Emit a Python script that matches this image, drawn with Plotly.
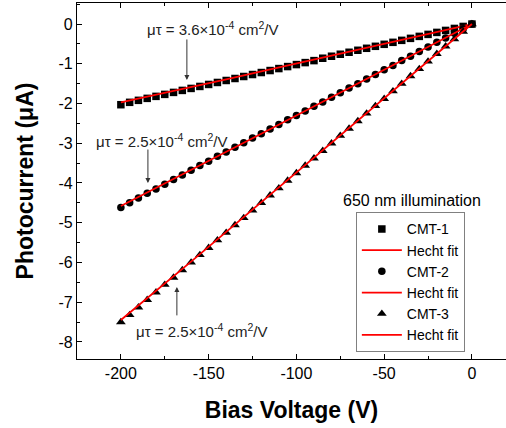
import plotly.graph_objects as go

# ---------------- data ----------------
voltage = [-200, -195, -190, -185, -180, -175, -170, -165, -160, -155, -150,
           -145, -140, -135, -130, -125, -120, -115, -110, -105, -100,
           -95, -90, -85, -80, -75, -70, -65, -60, -55, -50,
           -45, -40, -35, -30, -25, -20, -15, -10, -5, 0]

cmt1 = [-2.03, -1.97, -1.92, -1.87, -1.82, -1.77, -1.72, -1.67, -1.62, -1.57, -1.52,
        -1.47, -1.42, -1.37, -1.32, -1.27, -1.22, -1.17, -1.12, -1.07, -1.02,
        -0.97, -0.92, -0.86, -0.81, -0.76, -0.71, -0.66, -0.61, -0.56, -0.51,
        -0.46, -0.41, -0.36, -0.31, -0.26, -0.21, -0.16, -0.11, -0.06, 0.0]

cmt2 = [-4.62, -4.50, -4.38, -4.26, -4.15, -4.03, -3.91, -3.80, -3.68, -3.56, -3.45,
        -3.33, -3.22, -3.10, -2.99, -2.87, -2.76, -2.64, -2.53, -2.41, -2.30,
        -2.19, -2.07, -1.96, -1.84, -1.73, -1.61, -1.50, -1.38, -1.27, -1.15,
        -1.04, -0.92, -0.81, -0.69, -0.58, -0.46, -0.35, -0.23, -0.12, 0.0]

cmt3 = [-7.50, -7.32, -7.13, -6.94, -6.75, -6.56, -6.38, -6.19, -6.00, -5.81, -5.63,
        -5.44, -5.25, -5.06, -4.88, -4.69, -4.50, -4.31, -4.13, -3.94, -3.75,
        -3.56, -3.38, -3.19, -3.00, -2.81, -2.63, -2.44, -2.25, -2.06, -1.88,
        -1.69, -1.50, -1.31, -1.13, -0.94, -0.75, -0.56, -0.38, -0.19, 0.0]

v_fit = [-200, -180, -160, -140, -120, -100, -80, -60, -40, -20, 0]
fit1 = [-1.97, -1.78, -1.59, -1.39, -1.19, -0.99, -0.80, -0.60, -0.40, -0.20, 0.0]
fit2 = [-4.58, -4.13, -3.68, -3.22, -2.76, -2.30, -1.84, -1.38, -0.92, -0.46, 0.0]
fit3 = [-7.45, -6.72, -5.98, -5.23, -4.48, -3.73, -2.99, -2.24, -1.49, -0.75, 0.0]

x_ticks = [-200, -150, -100, -50, 0]
x_tick_labels = ["-200", "-150", "-100", "-50", "0"]
y_ticks = [0, -1, -2, -3, -4, -5, -6, -7, -8]
y_tick_labels = ["0", "-1", "-2", "-3", "-4", "-5", "-6", "-7", "-8"]

font_family = "Liberation Sans, Arial, sans-serif"

fig = go.Figure()
series = [("CMT-1", cmt1, fit1, "square", 7.5),
          ("CMT-2", cmt2, fit2, "circle", 7.5),
          ("CMT-3", cmt3, fit3, "triangle-up", 8.5)]
for name, data, fit, sym, sz in series:
    fig.add_trace(go.Scatter(x=voltage, y=data, mode="markers", name=name,
                             marker=dict(symbol=sym, size=sz, color="black")))
    fig.add_trace(go.Scatter(x=v_fit, y=fit, mode="lines", name="Hecht fit",
                             line=dict(color="#ff0000", width=1.8)))

axis_common = dict(showgrid=False, zeroline=False, showline=True, linecolor="black",
                   linewidth=1.3, ticks="inside", ticklen=5, tickwidth=1.2, automargin=False,
                   tickcolor="black", tickfont=dict(size=16, color="black", family=font_family))

fig.update_xaxes(range=[-225, 19.4], tickvals=x_ticks, ticktext=x_tick_labels, mirror="ticks",
                 minor=dict(dtick=25, ticks="inside", ticklen=3, tickcolor="black", tickwidth=1.2),
                 title=dict(text="<b>Bias Voltage (V)</b>", font=dict(size=23, family=font_family, color="black"),
                            standoff=20),
                 **axis_common)
fig.update_yaxes(range=[-8.43, 0.53], tickvals=y_ticks, ticktext=y_tick_labels,
                 minor=dict(dtick=0.5, ticks="inside", ticklen=3, tickcolor="black", tickwidth=1.2),
                 title=dict(text="<b>Photocurrent (μA)</b>", font=dict(size=23, family=font_family, color="black"),
                            standoff=18),
                 **axis_common)

ann_font = dict(size=15, color="#222222", family=font_family)
label = "μτ = {}×10<sup>-4</sup> cm<sup>2</sup>/V"
annotations = [
    dict(x=-147.6, y=-0.10, text=label.format("3.6"), showarrow=False, font=ann_font),
    dict(x=-176.6, y=-2.92, text=label.format("2.5"), showarrow=False, font=ann_font),
    dict(x=-153.8, y=-7.70, text=label.format("2.5"), showarrow=False, font=ann_font),
    dict(x=-34.2, y=-4.43, text="650 nm illumination", showarrow=False,
         font=dict(size=16, color="black", family=font_family)),
]
arrows = [(-162.4, -0.35, -1.41), (-184.6, -3.12, -4.0), (-168.1, -7.37, -6.62)]
for ax_, tail, head in arrows:
    annotations.append(dict(x=ax_, y=head, ax=ax_, ay=tail, axref="x", ayref="y",
                            xref="x", yref="y", text="", showarrow=True,
                            arrowhead=2, arrowsize=1, arrowwidth=1, arrowcolor="#333333"))

fig.update_layout(
    width=506, height=428,
    margin=dict(l=77, r=0, t=3, b=69),
    paper_bgcolor="white", plot_bgcolor="white",
    font=dict(family=font_family),
    annotations=annotations,
    legend=dict(x=0.65, y=0.412, xanchor="left", yanchor="top",
                bgcolor="white", bordercolor="#808080", borderwidth=1,
                font=dict(size=14, color="black", family=font_family),
                tracegroupgap=0, itemwidth=40),
)

fig.write_html("out.html", config={"displayModeBar": False},
               post_script="document.body.style.margin='0';")
